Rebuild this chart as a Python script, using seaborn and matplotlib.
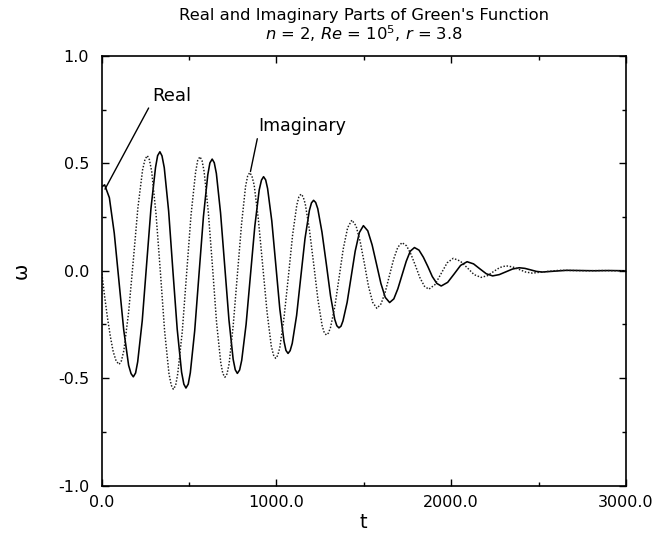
import matplotlib
matplotlib.use("Agg")
import matplotlib.pyplot as plt
import numpy as np
import pandas as pd
import seaborn as sns
from matplotlib.ticker import MultipleLocator, FormatStrFormatter

# ---- data ----
t_real = [0, 18, 45, 73, 100, 127, 155, 169,
          182, 195, 207, 233, 258, 283, 309, 321,
          334, 346, 359, 384, 408, 433, 458, 471,
          483, 496, 508, 533, 558, 583, 608, 620,
          633, 645, 657, 681, 705, 729, 753, 765,
          777, 790, 802, 827, 852, 877, 902, 915,
          927, 939, 950, 974, 997, 1020, 1044, 1055,
          1067, 1079, 1091, 1116, 1140, 1164, 1189, 1201,
          1213, 1225, 1237, 1261, 1286, 1310, 1334, 1346,
          1358, 1370, 1381, 1405, 1428, 1451, 1475,
          1498, 1523, 1548, 1573, 1598, 1623,
          1648, 1672, 1695, 1719, 1743, 1766,
          1790, 1816, 1841, 1867, 1892, 1918,
          1943, 1980, 2017, 2054,
          2091, 2128, 2164, 2201,
          2237, 2275, 2313, 2351,
          2389, 2422, 2455, 2487,
          2520, 2590, 2660, 2740, 2820, 2900, 3000]

real = [0.39, 0.40, 0.340, 0.175, -0.05, -0.275, -0.440, -0.479,
        -0.494, -0.476, -0.424, -0.233, 0.030, 0.291, 0.481, 0.536,
        0.554, 0.535, 0.480, 0.278, 0.004, -0.272, -0.472, -0.528,
        -0.546, -0.528, -0.475, -0.280, -0.013, 0.252, 0.447, 0.502,
        0.520, 0.503, 0.453, 0.269, 0.020, -0.229, -0.412, -0.461,
        -0.478, -0.462, -0.417, -0.250, -0.020, 0.208, 0.376, 0.422,
        0.438, 0.423, 0.383, 0.232, 0.027, -0.179, -0.329, -0.371,
        -0.385, -0.372, -0.338, -0.208, -0.028, 0.150, 0.281, 0.316,
        0.328, 0.318, 0.289, 0.180, 0.031, -0.117, -0.226, -0.256,
        -0.266, -0.258, -0.234, -0.147, -0.028, 0.091, 0.178,
        0.210, 0.186, 0.120, 0.031, -0.059, -0.124,
        -0.148, -0.131, -0.084, -0.020, 0.044, 0.091,
        0.108, 0.096, 0.063, 0.019, -0.027, -0.059,
        -0.071, -0.054, -0.015, 0.025,
        0.042, 0.032, 0.009, -0.014,
        -0.024, -0.018, -0.005, 0.008,
        0.014, 0.011, 0.004, -0.003,
        -0.006, -0.002, 0.002, 0.001, 0.000, 0.001, 0.000]

t_imag = [0, 17, 34, 51, 67, 84,
          101, 114, 128, 155, 182, 208, 235, 249,
          262, 274, 287, 312, 337, 361, 386, 399,
          411, 424, 436, 462, 487, 512, 538, 550,
          563, 575, 587, 611, 635, 658, 682, 694,
          706, 718, 730, 753, 777, 801, 824, 836,
          848, 860, 873, 897, 922, 947, 971, 984,
          996, 1008, 1020, 1044, 1069, 1093, 1117, 1129,
          1141, 1153, 1165, 1189, 1214, 1238, 1262, 1274,
          1286, 1298, 1310, 1335, 1359, 1383, 1408,
          1432, 1456, 1480, 1504, 1527, 1551,
          1575, 1599, 1623, 1647, 1671, 1695,
          1719, 1745, 1770, 1796, 1821, 1847,
          1872, 1907, 1942, 1977,
          2012, 2052, 2092, 2131,
          2171, 2207, 2242, 2278,
          2313, 2351, 2389, 2426,
          2464, 2540, 2620, 2700, 2780, 2860, 2940, 3000]

imag = [0.0, -0.114, -0.218, -0.308, -0.377, -0.421,
        -0.436, -0.419, -0.371, -0.194, 0.049, 0.292, 0.470, 0.519,
        0.536, 0.517, 0.463, 0.263, -0.008, -0.281, -0.480, -0.533,
        -0.552, -0.534, -0.480, -0.283, -0.011, 0.259, 0.458, 0.513,
        0.531, 0.513, 0.462, 0.273, 0.017, -0.240, -0.427, -0.479,
        -0.496, -0.480, -0.433, -0.258, -0.020, 0.217, 0.393, 0.441,
        0.457, 0.442, 0.400, 0.241, 0.024, -0.193, -0.350, -0.393,
        -0.408, -0.394, -0.357, -0.218, -0.026, 0.166, 0.306, 0.344,
        0.357, 0.345, 0.313, 0.192, 0.029, -0.135, -0.256, -0.288,
        -0.299, -0.290, -0.264, -0.165, -0.031, 0.103, 0.201,
        0.236, 0.209, 0.134, 0.032, -0.072, -0.147,
        -0.175, -0.154, -0.099, -0.022, 0.054, 0.110,
        0.131, 0.116, 0.077, 0.023, -0.032, -0.072,
        -0.086, -0.065, -0.014, 0.037,
        0.058, 0.045, 0.014, -0.018,
        -0.031, -0.023, -0.004, 0.015,
        0.023, 0.018, 0.006, -0.006,
        -0.011, -0.004, 0.002, 0.001, 0.000, 0.001, 0.000, 0.000]

x_ticks = [0, 1000, 2000, 3000]
y_ticks = [-1.0, -0.5, 0.0, 0.5, 1.0]

title1 = "Real and Imaginary Parts of Green's Function"
title2 = r"$n$ = 2, $Re$ = 10$^5$, $r$ = 3.8"

# ---- style ----
sns.set_theme(style="ticks")
plt.rcParams.update({
    "font.family": ["DejaVu Sans"],
    "mathtext.fontset": "custom",
    "mathtext.it": "DejaVu Sans:italic",
    "mathtext.rm": "DejaVu Sans",
    "text.color": "black",
    "axes.labelcolor": "black",
    "xtick.color": "black",
    "ytick.color": "black",
})

df = pd.concat([
    pd.DataFrame({"t": t_real, "w": real, "part": "Real"}),
    pd.DataFrame({"t": t_imag, "w": imag, "part": "Imaginary"}),
], ignore_index=True)

fig = plt.figure(figsize=(6.69, 5.36), dpi=100)
W, H = 669, 536
ax = fig.add_axes([101.5 / W, 1 - 485.5 / H, 524.5 / W, 429.5 / H])

sns.lineplot(data=df, x="t", y="w", hue="part", style="part",
             palette={"Real": "black", "Imaginary": "#1a1a1a"},
             dashes={"Real": "", "Imaginary": (1, 1.2)},
             estimator=None, sort=False, legend=False, linewidth=1.15, ax=ax)
for ln in ax.lines:
    ln.set_solid_joinstyle("round")
    if ln.get_linestyle() != "-":
        ln.set_linewidth(1.05)

ax.set_xlim(0, 3000)
ax.set_ylim(-1, 1)
ax.set_xticks(x_ticks)
ax.set_yticks(y_ticks)
ax.xaxis.set_minor_locator(MultipleLocator(500))
ax.yaxis.set_minor_locator(MultipleLocator(0.25))
ax.xaxis.set_major_formatter(FormatStrFormatter("%.1f"))
ax.yaxis.set_major_formatter(FormatStrFormatter("%.1f"))
ax.tick_params(which="both", direction="in", top=True, right=True,
               colors="black", labelsize=11.5, width=1)
ax.tick_params(which="major", length=5)
ax.tick_params(which="minor", length=3)
ax.tick_params(axis="y", pad=9)
ax.tick_params(axis="x", pad=7)
for s in ax.spines.values():
    s.set_linewidth(1.2)
    s.set_color("black")

ax.set_xlabel("t", fontsize=14)
ax.set_ylabel("ω", fontsize=14)
ax.xaxis.set_label_coords(0.5, -0.064)
ax.yaxis.set_label_coords(-0.135, 0.5)

ax.text(0.5, 1.095, title1, transform=ax.transAxes, ha="center",
        va="center", fontsize=11.8)
ax.text(0.5, 1.052, title2, transform=ax.transAxes, ha="center",
        va="center", fontsize=11.8)

ax.annotate("Real", xy=(20, 0.38), xytext=(288, 0.815),
            ha="left", va="center", fontsize=13,
            arrowprops=dict(arrowstyle="-", lw=1.0, color="black",
                            shrinkA=0, shrinkB=0, relpos=(0, 0.15)))
ax.annotate("Imaginary", xy=(852, 0.462), xytext=(895, 0.672),
            ha="left", va="center", fontsize=12.5,
            arrowprops=dict(arrowstyle="-", lw=1.0, color="black",
                            shrinkA=0, shrinkB=0, relpos=(0, 0.0)))

fig.savefig("out.png", dpi=100)
